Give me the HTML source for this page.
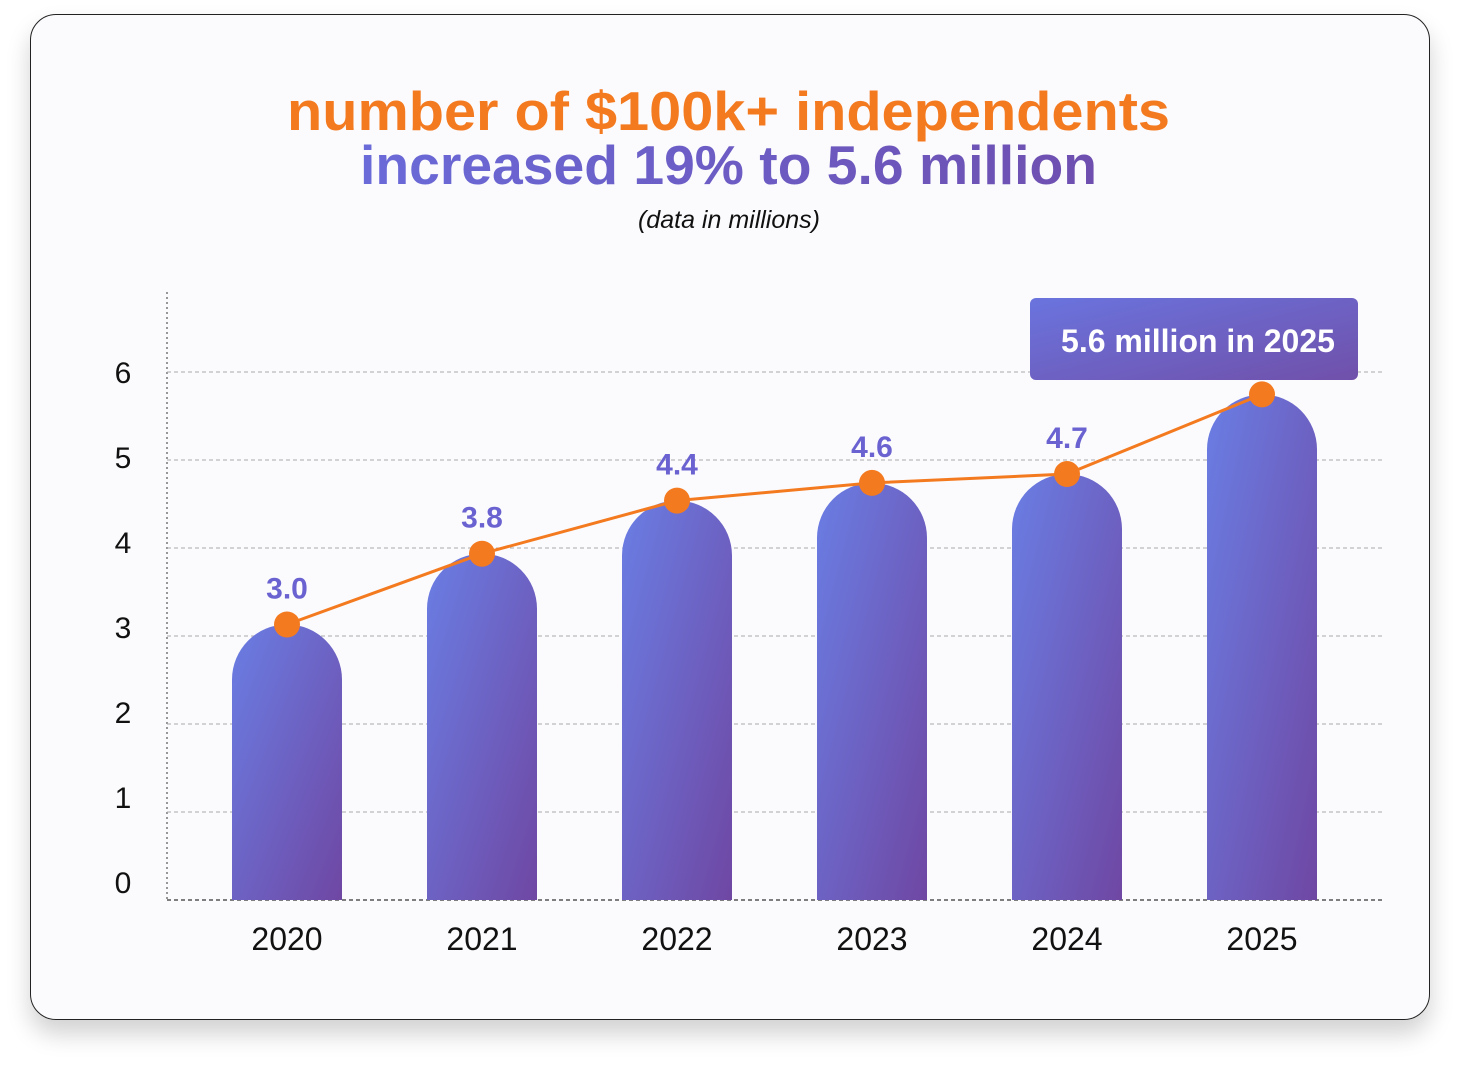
<!DOCTYPE html>
<html><head><meta charset="utf-8">
<style>
html,body{margin:0;padding:0;background:#fff;}
body{width:1460px;height:1066px;position:relative;overflow:hidden;font-family:"Liberation Sans",sans-serif;}
#card{position:absolute;left:30px;top:14px;width:1398px;height:1004px;border:1px solid #222;border-radius:26px;background:#fbfbfd;box-shadow:0 14px 24px rgba(0,0,0,0.18);}
</style></head>
<body>
<div id="card"></div>
<svg id="chart" width="1460" height="1066" style="position:absolute;left:0;top:0">
<defs>
<linearGradient id="barg" x1="0" y1="0" x2="1" y2="1">
<stop offset="0" stop-color="#6a7ee4"/><stop offset="1" stop-color="#6f47a3"/>
</linearGradient>
<linearGradient id="boxg" x1="0" y1="0" x2="1" y2="1">
<stop offset="0" stop-color="#6a74de"/><stop offset="1" stop-color="#7050aa"/>
</linearGradient>
<linearGradient id="t2g" x1="0" y1="0" x2="1" y2="0">
<stop offset="0" stop-color="#6a6ad8"/><stop offset="1" stop-color="#6e4fb0"/>
</linearGradient>
</defs>
<text x="287" y="130" textLength="883" lengthAdjust="spacingAndGlyphs" font-size="55" font-weight="bold" fill="#f47a20">number of $100k+ independents</text>
<text x="360" y="184" textLength="737" lengthAdjust="spacingAndGlyphs" font-size="55" font-weight="bold" fill="url(#t2g)">increased 19% to 5.6 million</text>
<text x="729" y="228" text-anchor="middle" font-size="25" font-style="italic" fill="#111">(data in millions)</text>
<g id="grid"></g><g id="bars"></g><g id="line"></g>
<rect x="1030" y="298" width="328" height="82" rx="6" fill="url(#boxg)"/>
<text x="1198" y="352" text-anchor="middle" font-size="32" font-weight="bold" fill="#fff">5.6 million in 2025</text>
</svg>
<script>
const categories=["2020","2021","2022","2023","2024","2025"];
const values=[3.0,3.8,4.4,4.6,4.7,5.6];
const valueLabels=["3.0","3.8","4.4","4.6","4.7","5.6"];
const yTicks=[0,1,2,3,4,5,6];
const NS="http://www.w3.org/2000/svg";
const y0=890,unit=88.5,gridY0=900,gridUnit=88;
const xOf=i=>287+i*195;
const yOf=v=>y0-v*unit;
function mk(tag,attrs,parent,text){const e=document.createElementNS(NS,tag);for(const k in attrs)e.setAttribute(k,attrs[k]);if(text!==undefined)e.textContent=text;parent.appendChild(e);return e;}
const grid=document.getElementById('grid'),bars=document.getElementById('bars'),line=document.getElementById('line');
let ax=mk('line',{x1:167,y1:292,x2:167,y2:900,stroke:'#555','stroke-dasharray':'2,3','stroke-width':1.2},grid);


yTicks.forEach(t=>{
 const gy=gridY0-t*gridUnit;
 const l=mk('line',{x1:167,y1:gy,x2:1382,y2:gy,stroke:t===0?'#555':'#aaa','stroke-dasharray':'4,3','stroke-width':t===0?1.4:1},grid);
 
 
 const tx=mk('text',{x:123,y:893-t*85,'text-anchor':'middle','font-size':30,fill:'#111'},grid,String(t));
 
 
});
const r=55;
let pts=[];
values.forEach((v,i)=>{
 const cx=xOf(i),top=yOf(v);
 const p=mk('path',{d:`M${cx-r},900 L${cx-r},${top+r} A${r},${r} 0 0 1 ${cx+r},${top+r} L${cx+r},900 Z`,fill:'url(#barg)'},bars);
 
 
 const xl=mk('text',{x:cx,y:950,'text-anchor':'middle','font-size':32,fill:'#111'},bars,categories[i]);
 
 
 pts.push([cx,top]);
});
mk('polyline',{points:pts.map(p=>p.join(',')).join(' '),fill:'none',stroke:'#f47a20','stroke-width':3},line);
values.forEach((v,i)=>{
 const [cx,cy]=pts[i];
 const c=mk('circle',{cx:cx,cy:cy,r:13,fill:'#f47a20'},line);
 
 
 if(i<values.length-1){
  const t=mk('text',{x:cx,y:cy-26,'text-anchor':'middle','font-size':30,'font-weight':'bold',fill:'#6a62d0'},line,valueLabels[i]);
  
  
 }
});
</script>
</body></html>
